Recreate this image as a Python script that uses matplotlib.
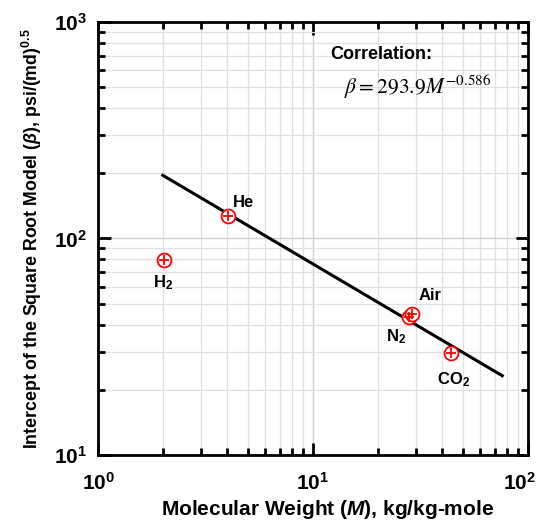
import numpy as np
import matplotlib
matplotlib.use("Agg")
import matplotlib.pyplot as plt
from matplotlib.ticker import LogLocator, NullFormatter, FuncFormatter
from matplotlib.transforms import ScaledTranslation

plt.rcParams['font.family'] = ['Liberation Sans', 'DejaVu Sans']
plt.rcParams['mathtext.fontset'] = 'custom'
plt.rcParams['mathtext.rm'] = 'Liberation Sans:bold'
plt.rcParams['mathtext.bf'] = 'Liberation Sans:bold'
plt.rcParams['mathtext.it'] = 'Liberation Sans:italic:bold'

# gas data: molecular weight and square-root-model intercept
gases = ['H$_2$', 'He', 'N$_2$', 'Air', 'CO$_2$']
mol_weight = [2.016, 4.003, 28.01, 28.97, 44.01]
beta = [79.6, 127.0, 43.4, 44.6, 29.6]
label_offsets = [(0, -23), (16, 14), (-13, -20), (18, 19), (2, -27)]

# power-law correlation
coef, expo = 293.9, -0.586
m_fit = np.logspace(np.log10(2.0), np.log10(76.0), 100)
beta_fit = coef * m_fit ** expo

fig = plt.figure(figsize=(5.42, 5.23), dpi=100)
ax = fig.add_axes([0.181, 0.130, 0.793, 0.828])

ax.plot(m_fit, beta_fit, color='black', lw=2.2, zorder=3)
ax.plot(mol_weight, beta, 'o', ms=10, mfc='white', mec='red', mew=1.3, zorder=4)
ax.plot(mol_weight, beta, '+', ms=7, color='red', mew=1.3, zorder=5)

for g, m, b, off in zip(gases, mol_weight, beta, label_offsets):
    ax.annotate(g, (m, b), xytext=off, textcoords='offset pixels',
                ha='center', va='center', fontsize=12, fontweight='bold')

ax.set_xscale('log')
ax.set_yscale('log')
ax.set_xlim(1, 100)
ax.set_ylim(10, 1000)

pow10 = FuncFormatter(lambda v, pos: r'$\mathrm{10^{%d}}$' % round(np.log10(v)))
for axis in (ax.xaxis, ax.yaxis):
    axis.set_major_locator(LogLocator(base=10))
    axis.set_major_formatter(pow10)
    axis.set_minor_locator(LogLocator(base=10, subs=np.arange(2, 10)))
    axis.set_minor_formatter(NullFormatter())

ax.grid(True, which='major', color='#d0d0d0', lw=1.0)
ax.grid(True, which='minor', color='#e0e0e0', lw=0.9)
ax.set_axisbelow(True)

ax.tick_params(which='both', direction='in', top=True, right=True, width=2)
ax.tick_params(which='major', length=9, labelsize=15)
ax.tick_params(which='minor', length=5)
ax.tick_params(axis='x', which='major', pad=12)
ax.tick_params(axis='y', which='major', pad=8)
for s in ax.spines.values():
    s.set_linewidth(2)

ax.set_xlabel('Molecular Weight ($M$), kg/kg-mole', fontsize=15, fontweight='bold')
ax.xaxis.set_label_coords(0.533, -0.100)
ax.set_ylabel(r'Intercept of the Square Root Model ($\beta$), psi/(md)$^{0.5}$',
              fontsize=12.8, fontweight='bold', labelpad=7)

ax.text(0.54, 0.924, 'Correlation:', transform=ax.transAxes, fontsize=13,
        fontweight='bold', va='center', ha='left')
ax.text(0.572, 0.850, r'$\beta = 293.9M^{-0.586}$', transform=ax.transAxes,
        fontsize=15.5, va='center', ha='left', math_fontfamily='stix')

# nudge the rightmost x tick label so it stays inside the canvas
fig.canvas.draw()
shift = ScaledTranslation(-6 / 72, 0, fig.dpi_scale_trans)
for tick in ax.xaxis.get_major_ticks():
    if np.isclose(tick.get_loc(), 100):
        tick.label1.set_transform(tick.label1.get_transform() + shift)

fig.savefig('out.png', dpi=100)
